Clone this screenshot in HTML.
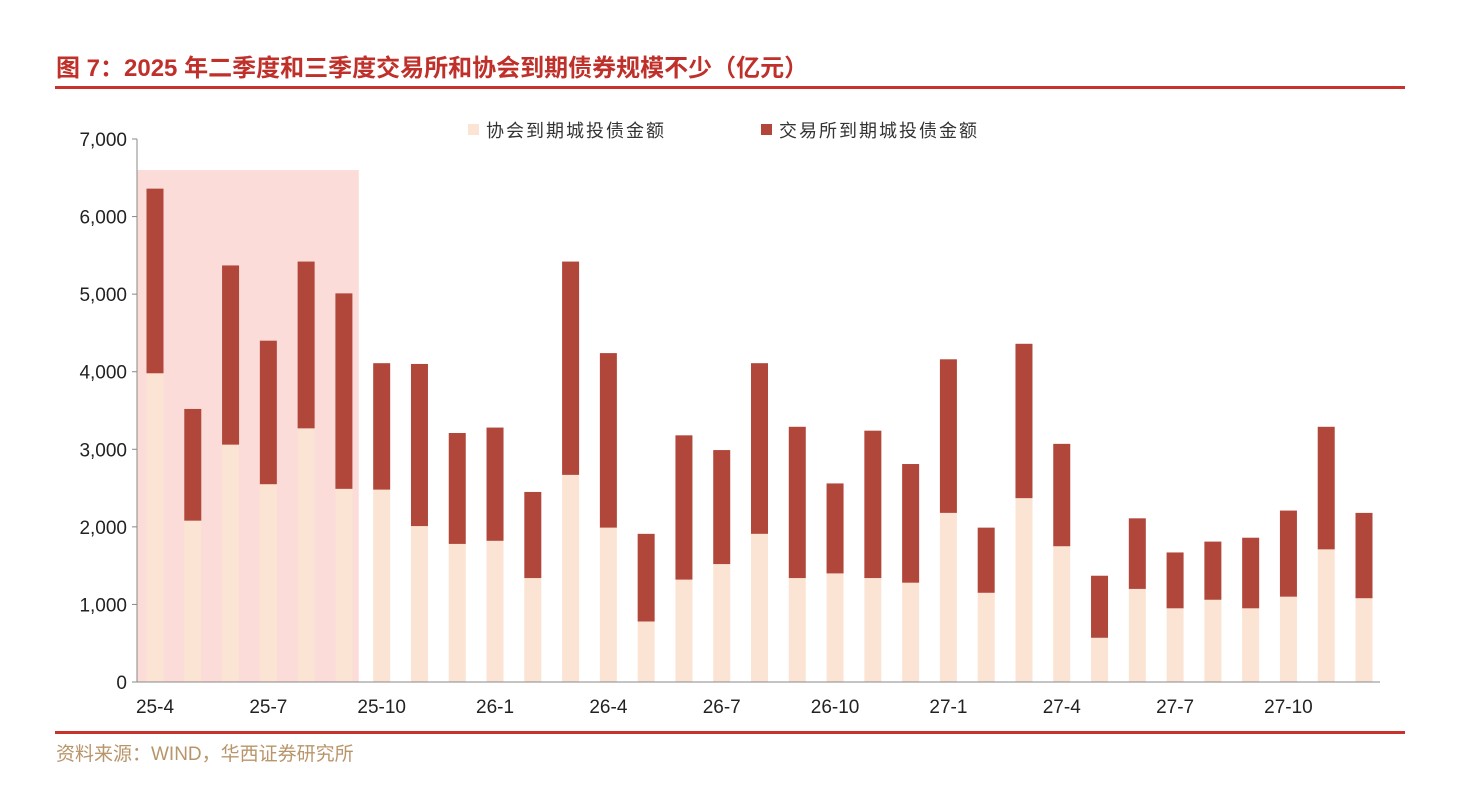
<!DOCTYPE html>
<html><head><meta charset="utf-8">
<style>
body{margin:0;width:1477px;height:787px;background:#fff;font-family:"Liberation Sans","Noto Sans CJK SC",sans-serif;overflow:hidden;position:relative}
.title{position:absolute;left:56px;top:48px;font-size:24px;color:#c0302a;font-weight:bold}
.rule{position:absolute;left:55px;width:1350px;height:3px;background:#c8322c}
.src{position:absolute;left:56px;top:739px;font-size:19px;color:#b8956a}
</style></head><body>
<div class="title">图 7：2025 年二季度和三季度交易所和协会到期债券规模不少（亿元）</div>
<div class="rule" style="top:86px"></div>
<div class="rule" style="top:731px"></div>
<div class="src">资料来源：WIND，华西证券研究所</div>
<svg id="c" width="1477" height="787" style="position:absolute;left:0;top:0"></svg>
<script>
const categories=["25-4","25-5","25-6","25-7","25-8","25-9","25-10","25-11","25-12","26-1","26-2","26-3","26-4","26-5","26-6","26-7","26-8","26-9","26-10","26-11","26-12","27-1","27-2","27-3","27-4","27-5","27-6","27-7","27-8","27-9","27-10","27-11","27-12"];
const assocValues=[3980,2080,3060,2550,3270,2490,2480,2010,1780,1820,1340,2670,1990,780,1320,1520,1910,1340,1400,1340,1280,2180,1150,2370,1750,570,1200,950,1060,950,1100,1710,1080];
const totalValues=[6360,3520,5370,4400,5420,5010,4110,4100,3210,3280,2450,5420,4240,1910,3180,2990,4110,3290,2560,3240,2810,4160,1990,4360,3070,1370,2110,1670,1810,1860,2210,3290,2180];
const exchValues=totalValues.map((t,i)=>t-assocValues[i]);
const yTicks=[0,1000,2000,3000,4000,5000,6000,7000];
const highlightMax=6600;
const ns="http://www.w3.org/2000/svg",svg=document.getElementById('c');
const x0=137,x1=1380,y0=682,yTop=139;
const y=v=>y0-(v/7000)*(y0-yTop);
const step=(1364-155)/32;
const x=i=>155+i*step;
function mk(t,a){const e=document.createElementNS(ns,t);for(const k in a)e.setAttribute(k,a[k]);svg.appendChild(e);return e;}
let h=mk('rect',{x:x0,y:y(highlightMax),width:x(5)+step/2+9-x0-13,height:y0-y(highlightMax),fill:'#fad3cf',opacity:0.8});


yTicks.forEach(v=>{
 let t=mk('text',{x:x0-10,y:y(v)+7,'text-anchor':'end','font-size':19,fill:'#222'});t.textContent=v.toLocaleString('en-US');
 
 
 mk('line',{x1:x0-5,x2:x0,y1:y(v),y2:y(v),stroke:'#888'});
});
categories.forEach((c,i)=>{
 let a=mk('rect',{x:x(i)-8.5,y:y(assocValues[i]),width:17,height:y0-y(assocValues[i]),fill:'#fbe4d3'});
 
 
 let b=mk('rect',{x:x(i)-8.5,y:y(totalValues[i]),width:17,height:y(assocValues[i])-y(totalValues[i]),fill:'#b1473b'});
 
 
 if(i%3===0){
  let t=mk('text',{x:x(i)+0,y:713,'text-anchor':'middle','font-size':19,fill:'#222'});t.textContent=c;
  
  
 }
});
mk('line',{x1:x0,x2:x0,y1:yTop,y2:y0,stroke:'#888'});
mk('line',{x1:x0,x2:x1,y1:y0,y2:y0,stroke:'#888'});
[['#fbe4d3','协会到期城投债金额',468],['#b1473b','交易所到期城投债金额',761]].forEach(([col,lab,lx])=>{
 let r=mk('rect',{x:lx,y:124,width:11,height:11,fill:col});
 
 
 let t=mk('text',{x:lx+18,y:137,'font-size':18,fill:'#333','letter-spacing':'2'});t.textContent=lab;
 
 
});
</script>
</body></html>
